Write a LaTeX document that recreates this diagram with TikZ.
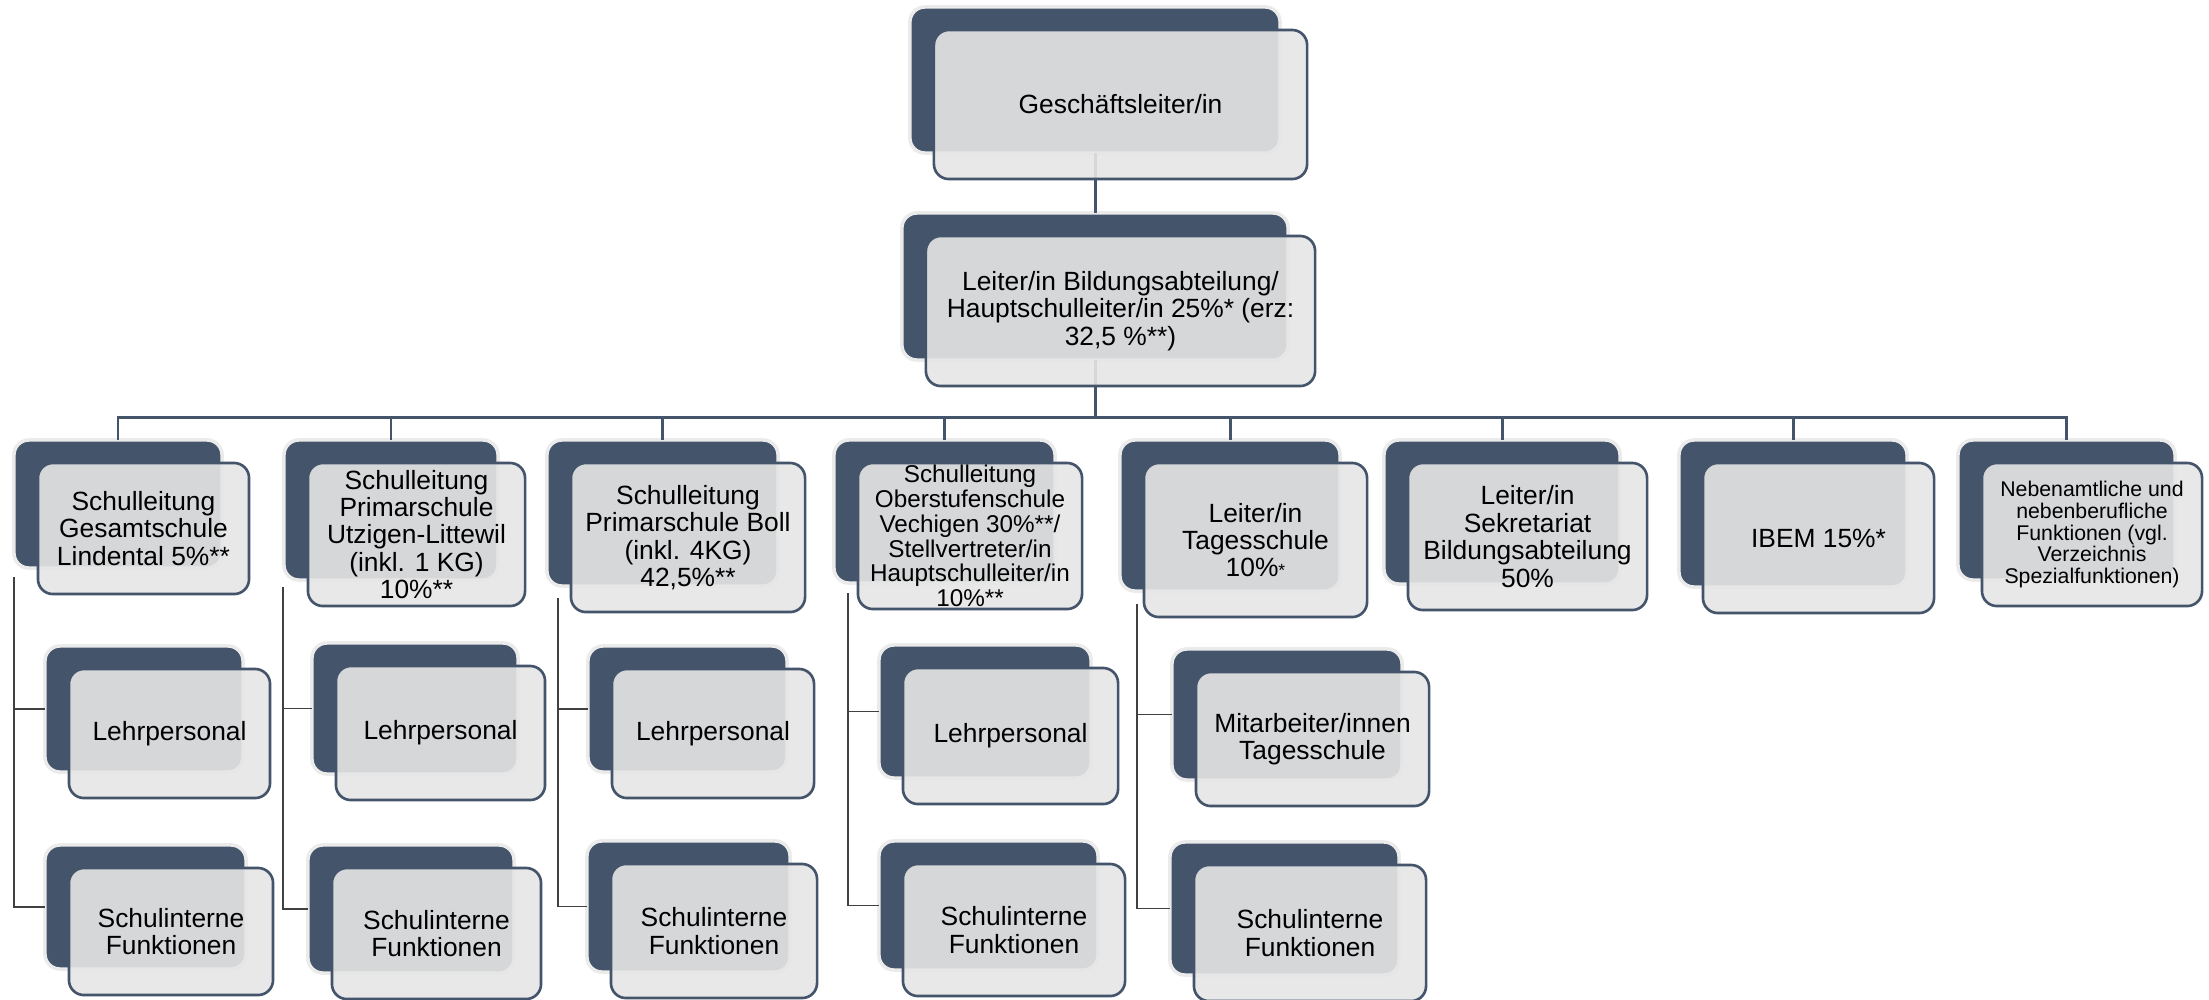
\documentclass[tikz,border=0pt]{standalone}
\usepackage{fontspec}
\setmainfont{Liberation Sans}
\usepackage{tikz}
\definecolor{orgdark}{RGB}{68,84,106}
\definecolor{orgpale}{RGB}{230,230,230}

\begin{document}
\begin{tikzpicture}[x=0.01cm, y=-0.01cm,
		back/.style 2 args={rectangle, rounded corners=0.15cm, fill=orgdark, draw=black!8, line width=1pt, minimum width=#1, minimum height=#2, inner sep=0pt, outer sep=0pt},
		front/.style 2 args={rectangle, rounded corners=0.15cm, fill=orgpale, fill opacity=0.9, text opacity=1, draw=orgdark, line width=0.75pt, minimum width=#1, minimum height=#2, inner sep=0pt, outer sep=0pt, align=center, font=\fontsize{7.5}{7.8}\selectfont},
		mainline/.style={draw=orgdark, line width=0.85pt},
		subline/.style={draw=black!75, line width=0.55pt}]
		\useasboundingbox (0,0) rectangle (2209,999);
		\path[fill=white] (0,0) rectangle (2209,999);
%		\draw[help lines, step=100] (0,0) grid (2209,999);
		% dark back plates
		\path (1095,80) node(geschaeft) [back={3.70cm}{1.46cm}] {};
		\path (1095,286.5) node(bildung) [back={3.86cm}{1.47cm}] {};
		\path (118,504) node(gesamt) [back={2.08cm}{1.28cm}] {};
		\path (391,510) node(utzigen) [back={2.14cm}{1.40cm}] {};
		\path (662.5,513) node(boll) [back={2.31cm}{1.46cm}] {};
		\path (944.5,511.5) node(ober) [back={2.21cm}{1.43cm}] {};
		\path (1230,515.5) node(tages) [back={2.20cm}{1.51cm}] {};
		\path (1502,512) node(sekr) [back={2.36cm}{1.44cm}] {};
		\path (1793,513.5) node(ibem) [back={2.28cm}{1.47cm}] {};
		\path (2066.5,510) node(neben) [back={2.17cm}{1.40cm}] {};
		\path (144,709) node(gesamt_lehr) [back={1.98cm}{1.26cm}] {};
		\path (415,708.5) node(utzigen_lehr) [back={2.06cm}{1.31cm}] {};
		\path (687.5,709) node(boll_lehr) [back={1.99cm}{1.26cm}] {};
		\path (985,711.5) node(ober_lehr) [back={2.12cm}{1.33cm}] {};
		\path (1287,714.5) node(tages_mit) [back={2.30cm}{1.31cm}] {};
		\path (145.5,907) node(gesamt_fkt) [back={2.01cm}{1.24cm}] {};
		\path (411,909) node(utzigen_fkt) [back={2.06cm}{1.28cm}] {};
		\path (688.5,906.5) node(boll_fkt) [back={2.03cm}{1.31cm}] {};
		\path (988.5,905.5) node(ober_fkt) [back={2.19cm}{1.29cm}] {};
		\path (1284.5,908.5) node(tages_fkt) [back={2.29cm}{1.33cm}] {};
		\path (1095,417) coordinate (bus);

		% connectors
		\draw[mainline] (geschaeft.south) -- (bildung.north);
		\draw[mainline] (bildung.south) -- (bus);
		\draw[mainline] (bus) -| (gesamt.north);
		\draw[mainline] (bus) -| (utzigen.north);
		\draw[mainline] (bus) -| (boll.north);
		\draw[mainline] (bus) -| (ober.north);
		\draw[mainline] (bus) -| (tages.north);
		\draw[mainline] (bus) -| (sekr.north);
		\draw[mainline] (bus) -| (ibem.north);
		\draw[mainline] (bus) -| (neben.north);
		\draw[subline] (gesamt.south west) +(0,9) |- (gesamt_lehr.west);
		\draw[subline] (gesamt.south west) +(0,9) |- (gesamt_fkt.west);
		\draw[subline] (utzigen.south west) +(-1,7) |- (utzigen_lehr.west);
		\draw[subline] (utzigen.south west) +(-1,7) |- (utzigen_fkt.west);
		\draw[subline] (boll.south west) +(11,12) |- (boll_lehr.west);
		\draw[subline] (boll.south west) +(11,12) |- (boll_fkt.west);
		\draw[subline] (ober.south west) +(14,10) |- (ober_lehr.west);
		\draw[subline] (ober.south west) +(14,10) |- (ober_fkt.west);
		\draw[subline] (tages.south west) +(17,13) |- (tages_mit.west);
		\draw[subline] (tages.south west) +(17,13) |- (tages_fkt.west);

		% light front plates with the texts
		\path (geschaeft) +(25.5,24.5) node(geschaeft_txt) [front={3.73cm}{1.49cm}] {Geschäftsleiter/in};
		\path (bildung) +(25.5,24.5) node(bildung_txt) [front={3.89cm}{1.50cm}] {Leiter/in Bildungsabteilung/\\Hauptschulleiter/in 25\%* (erz:\\32,5 \%**)};
		\path (gesamt) +(25.5,24.5) node(gesamt_txt) [front={2.11cm}{1.31cm}] {Schulleitung\\Gesamtschule\\Lindental 5\%**};
		\path (utzigen) +(25.5,24.5) node(utzigen_txt) [front={2.17cm}{1.43cm}] {Schulleitung\\Primarschule\\Utzigen-Littewil\\(inkl. 1 KG)\\10\%**};
		\path (boll) +(25.5,24.5) node(boll_txt) [front={2.34cm}{1.49cm}] {Schulleitung\\Primarschule Boll\\(inkl. 4KG)\\42,5\%**};
		\path (ober) +(25.5,24.5) node(ober_txt) [front={2.24cm}{1.46cm}, font=\fontsize{6.9}{7.05}\selectfont] {Schulleitung\\Oberstufenschule\\Vechigen 30\%**/\\Stellvertreter/in\\Hauptschulleiter/in\\10\%**};
		\path (tages) +(25.5,24.5) node(tages_txt) [front={2.23cm}{1.54cm}] {Leiter/in\\Tagesschule\\10\%{\fontsize{5}{5}\selectfont*}};
		\path (sekr) +(25.5,24.5) node(sekr_txt) [front={2.39cm}{1.47cm}] {Leiter/in\\Sekretariat\\Bildungsabteilung\\50\%};
		\path (ibem) +(25.5,24.5) node(ibem_txt) [front={2.31cm}{1.50cm}] {IBEM 15\%*};
		\path (neben) +(25.5,24.5) node(neben_txt) [front={2.20cm}{1.43cm}, font=\fontsize{6.05}{6.2}\selectfont] {Nebenamtliche und\\nebenberufliche\\Funktionen (vgl.\\Verzeichnis\\Spezialfunktionen)};
		\path (gesamt_lehr) +(25.5,24.5) node(gesamt_lehr_txt) [front={2.01cm}{1.29cm}] {Lehrpersonal};
		\path (utzigen_lehr) +(25.5,24.5) node(utzigen_lehr_txt) [front={2.09cm}{1.34cm}] {Lehrpersonal};
		\path (boll_lehr) +(25.5,24.5) node(boll_lehr_txt) [front={2.02cm}{1.29cm}] {Lehrpersonal};
		\path (ober_lehr) +(25.5,24.5) node(ober_lehr_txt) [front={2.15cm}{1.36cm}] {Lehrpersonal};
		\path (tages_mit) +(25.5,24.5) node(tages_mit_txt) [front={2.33cm}{1.34cm}] {Mitarbeiter/innen\\Tagesschule};
		\path (gesamt_fkt) +(25.5,24.5) node(gesamt_fkt_txt) [front={2.04cm}{1.27cm}] {Schulinterne\\Funktionen};
		\path (utzigen_fkt) +(25.5,24.5) node(utzigen_fkt_txt) [front={2.09cm}{1.31cm}] {Schulinterne\\Funktionen};
		\path (boll_fkt) +(25.5,24.5) node(boll_fkt_txt) [front={2.06cm}{1.34cm}] {Schulinterne\\Funktionen};
		\path (ober_fkt) +(25.5,24.5) node(ober_fkt_txt) [front={2.22cm}{1.32cm}] {Schulinterne\\Funktionen};
		\path (tages_fkt) +(25.5,24.5) node(tages_fkt_txt) [front={2.32cm}{1.36cm}] {Schulinterne\\Funktionen};
	\end{tikzpicture}
\end{document}
